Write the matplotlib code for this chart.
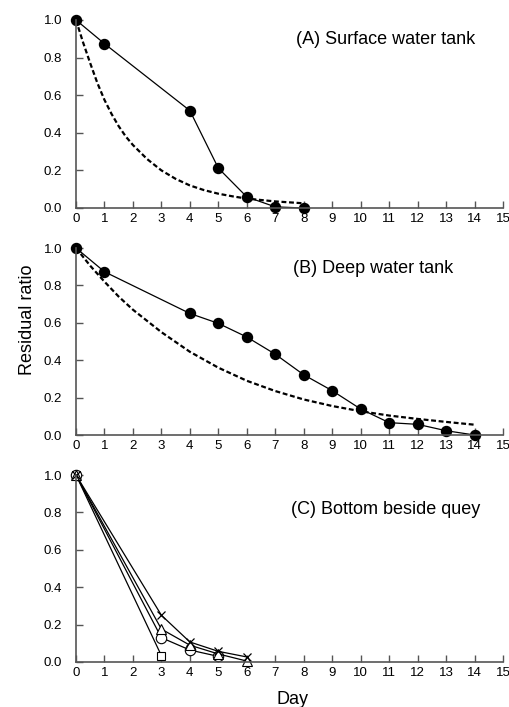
import matplotlib.pyplot as plt

plt.rcParams['font.family'] = ['Liberation Sans', 'DejaVu Sans']

# (A) 表层水槽
a_day = [0, 1, 4, 5, 6, 7, 8]
a_ratio = [1.0, 0.874, 0.518, 0.212, 0.059, 0.006, 0.0]
a_fit_day = [0, 0.25, 0.5, 0.75, 1.0, 1.25, 1.5, 1.75, 2.0, 2.5, 3.0, 3.5, 4.0, 4.5, 5.0, 5.5, 6.0, 7.0, 8.0]
a_fit = [1.0, 0.88, 0.77, 0.665, 0.575, 0.5, 0.435, 0.38, 0.335, 0.26, 0.2, 0.155, 0.12, 0.095, 0.076, 0.062, 0.05, 0.035, 0.025]

# (B) 深层水槽
b_day = [0, 1, 4, 5, 6, 7, 8, 9, 10, 11, 12, 13, 14]
b_ratio = [1.0, 0.873, 0.65, 0.597, 0.524, 0.432, 0.322, 0.237, 0.139, 0.066, 0.057, 0.023, 0.0]
b_fit_day = [0, 0.5, 1, 1.5, 2, 3, 4, 5, 6, 7, 8, 9, 10, 11, 12, 13, 14]
b_fit = [1.0, 0.905, 0.82, 0.74, 0.67, 0.55, 0.445, 0.36, 0.29, 0.235, 0.19, 0.155, 0.127, 0.104, 0.086, 0.07, 0.055]

# (C) 岸边底部
c_sq_day = [0, 3]
c_sq = [1.0, 0.034]
c_ci_day = [0, 3, 4, 5]
c_ci = [1.0, 0.13, 0.064, 0.03]
c_tr_day = [0, 3, 4, 5, 6]
c_tr = [1.0, 0.176, 0.09, 0.043, 0.005]
c_x_day = [0, 3, 4, 5, 6]
c_x = [1.0, 0.25, 0.107, 0.057, 0.027]

titles = ["(A) Surface water tank", "(B) Deep water tank", "(C) Bottom beside quey"]
title_pos = [(0.724, 0.895), (0.695, 0.89), (0.726, 0.815)]

fig = plt.figure(figsize=(5.1, 7.07), dpi=100)
left, width = 76 / 510, 427 / 510
boxes = [(20, 208), (248, 435), (475, 662)]
axes = []
for top, bot in boxes:
    ax = fig.add_axes([left, 1 - bot / 707, width, (bot - top) / 707])
    axes.append(ax)

for i, ax in enumerate(axes):
    ax.set_xlim(0, 15)
    ax.set_ylim(0, 1.0)
    ax.set_xticks(range(16))
    ax.set_yticks([0, 0.2, 0.4, 0.6, 0.8, 1.0])
    ax.set_yticklabels(["0.0", "0.2", "0.4", "0.6", "0.8", "1.0"])
    for s in ["top", "right"]:
        ax.spines[s].set_visible(False)
    for s in ["left", "bottom"]:
        ax.spines[s].set_color("#555555")
        ax.spines[s].set_linewidth(1.2)
    ax.tick_params(axis="x", direction="in", length=5, width=1, color="#555555",
                   pad=3.5, labelsize=9.5)
    ax.tick_params(axis="y", direction="in", length=5, width=1, color="#555555",
                   pad=10, labelsize=9.5)
    ax.text(title_pos[i][0], title_pos[i][1], titles[i], transform=ax.transAxes,
            ha="center", va="center", fontsize=13)

ax = axes[0]
ax.plot(a_fit_day, a_fit, color="black", lw=1.6, ls=(0, (2.2, 1.2)), clip_on=False)
ax.plot(a_day, a_ratio, color="black", lw=0.9, marker="o", ms=7.2, clip_on=False)

ax = axes[1]
ax.plot(b_fit_day, b_fit, color="black", lw=1.6, ls=(0, (2.2, 1.2)), clip_on=False)
ax.plot(b_day, b_ratio, color="black", lw=0.9, marker="o", ms=7.2, clip_on=False)

ax = axes[2]
ax.plot(c_sq_day, c_sq, color="black", lw=0.9, marker="s", ms=5.5, mfc="white", mew=0.8, clip_on=False)
ax.plot(c_ci_day, c_ci, color="black", lw=0.9, marker="o", ms=7.5, mfc="white", mew=0.8, clip_on=False)
ax.plot(c_tr_day, c_tr, color="black", lw=0.9, marker="^", ms=7, mfc="white", mew=0.8, clip_on=False)
ax.plot(c_x_day, c_x, color="black", lw=0.9, marker="x", ms=6, mew=0.9, clip_on=False)

fig.text(28 / 510, 1 - 320 / 707, "Residual ratio", rotation=90, ha="center", va="center", fontsize=13)
fig.text(293 / 510, 1 - 699 / 707, "Day", ha="center", va="center", fontsize=13)

fig.savefig("out.png", dpi=100)
